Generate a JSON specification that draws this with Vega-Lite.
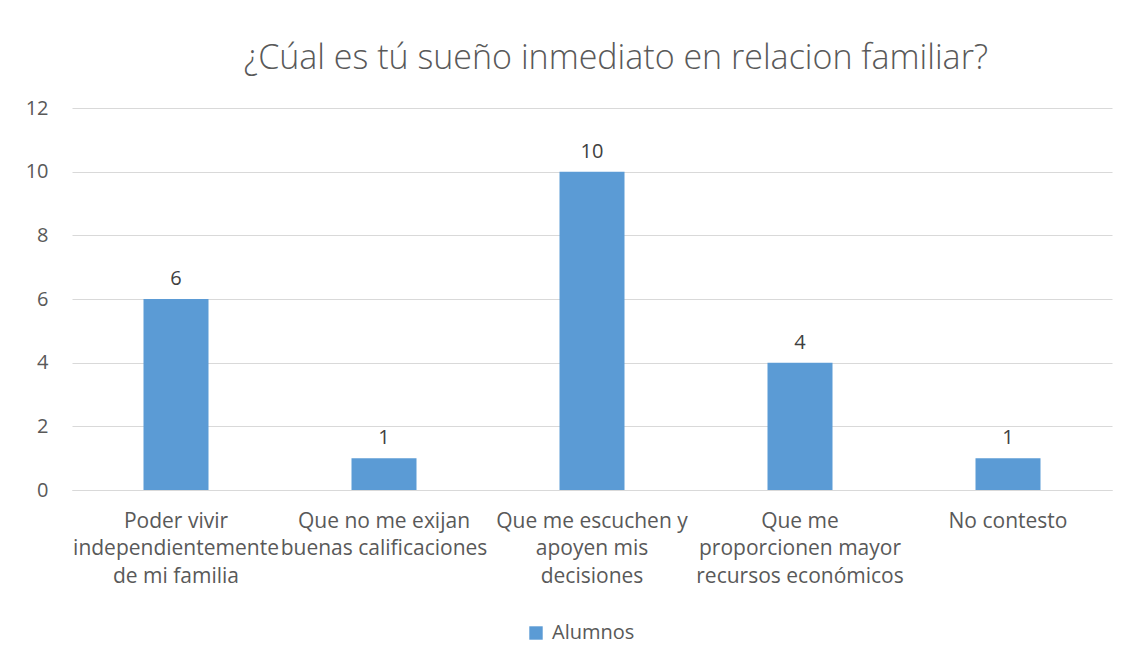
{
  "$schema": "https://vega.github.io/schema/vega-lite/v6.json",
  "autosize": "none",
  "width": 1040,
  "height": 382,
  "padding": {"left": 72, "top": 108, "right": 19, "bottom": 175},
  "background": "white",
  "config": {
    "font": "Open Sans",
    "view": {"stroke": null},
    "axis": {"labelColor": "#595959", "labelFont": "Open Sans", "labelFontSize": 19, "gridColor": "#D9D9D9", "domainColor": "#D9D9D9", "ticks": false}
  },
  "title": {
    "text": "¿Cúal es tú sueño inmediato en relacion familiar?",
    "fontSize": 34,
    "font": "Open Sans",
    "fontWeight": 300,
    "color": "#595959",
    "anchor": "middle",
    "offset": 22,
    "dx": 24
  },
  "data": {
    "values": [
      {"respuesta": "Poder vivir|independientemente|de mi familia", "alumnos": 6, "serie": "Alumnos"},
      {"respuesta": "Que no me exijan|buenas calificaciones", "alumnos": 1, "serie": "Alumnos"},
      {"respuesta": "Que me escuchen y|apoyen mis|decisiones", "alumnos": 10, "serie": "Alumnos"},
      {"respuesta": "Que me|proporcionen mayor|recursos económicos", "alumnos": 4, "serie": "Alumnos"},
      {"respuesta": "No contesto", "alumnos": 1, "serie": "Alumnos"}
    ]
  },
  "encoding": {
    "x": {
      "field": "respuesta", "type": "nominal", "sort": null,
      "scale": {"paddingInner": 0.6875, "paddingOuter": 0.34375},
      "axis": {"title": null, "labelAngle": 0, "labelExpr": "split(datum.value, '|')", "labelFontSize": 21, "labelLineHeight": 27.5, "labelPadding": 20, "labelLimit": 300, "grid": false, "domain": true}
    },
    "y": {
      "field": "alumnos", "type": "quantitative",
      "scale": {"domain": [0, 12], "nice": false},
      "axis": {"title": null, "values": [0, 2, 4, 6, 8, 10, 12], "domain": false, "labelPadding": 24, "labelFontSize": 20, "grid": true}
    }
  },
  "layer": [
    {
      "mark": {"type": "bar", "color": "#5B9BD5"},
      "encoding": {
        "color": {"field": "serie", "type": "nominal", "scale": {"range": ["#5B9BD5"]},
          "legend": {"title": null, "orient": "none", "legendX": 454, "legendY": 515, "symbolType": "square", "symbolSize": 180, "labelFontSize": 20, "labelColor": "#595959", "labelFont": "Open Sans", "labelOffset": 6, "symbolStrokeWidth": 0}}
      }
    },
    {
      "mark": {"type": "text", "baseline": "bottom", "dy": -10, "fontSize": 20, "color": "#404040", "font": "Open Sans"},
      "encoding": {"text": {"field": "alumnos", "type": "quantitative"}}
    }
  ]
}
